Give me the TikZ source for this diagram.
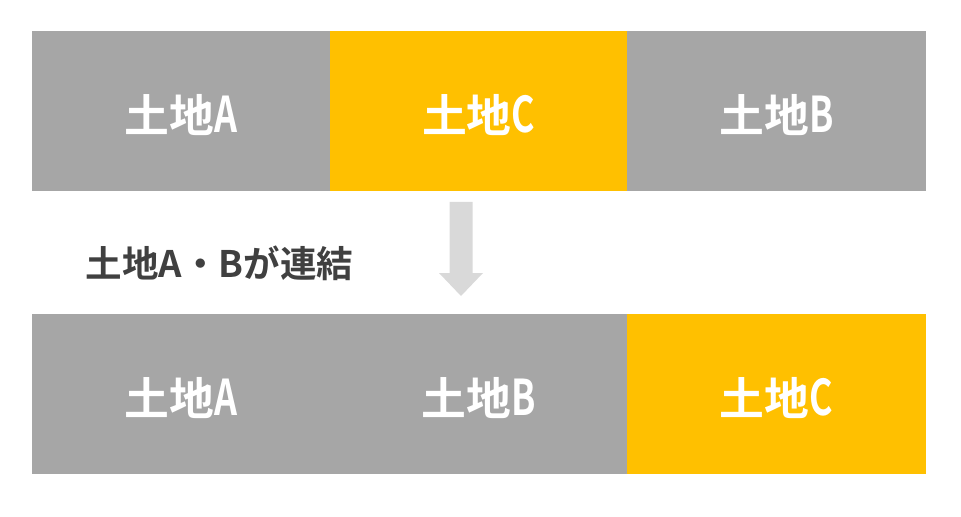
\documentclass[tikz,border=0pt]{standalone}
\usepackage{fontspec}
\newfontfamily\jpfont{Noto Sans CJK JP}[BoldFont={Noto Sans CJK JP Bold}]
\usetikzlibrary{positioning}

\definecolor{landgray}{HTML}{A6A6A6}
\definecolor{landgold}{HTML}{FFC000}
\definecolor{arrowgray}{HTML}{D9D9D9}
\definecolor{labelgray}{HTML}{404040}

% narrow latin letter in the box names
\newcommand{\plotname}[1]{土地\scalebox{0.8}[1.1]{#1}}

\tikzset{
  land/.style={fill=landgray, draw=landgray, line width=0.3pt, text=white, inner sep=0pt,
    outer sep=0pt, minimum width=298.33*0.02cm-0.3pt, minimum height=160*0.02cm-0.3pt,
    text height=0.86cm, text depth=0pt,
    font=\jpfont\bfseries\fontsize{25.5}{30}\selectfont},
  landC/.style={land, fill=landgold, draw=landgold}
}

\begin{document}
\begin{tikzpicture}[x=0.02cm, y=-0.02cm]
  \useasboundingbox (0,0) rectangle (961,517);
  % before
  \node (A1) [land, anchor=north west] at (32,31) {\plotname{A}};
  \node (C1) [landC, right=0pt of A1] {\plotname{C}};
  \node (B1) [land, right=0pt of C1] {\plotname{B}};
  % arrow
  \coordinate (tip) at (461,296);
  \fill[arrowgray] (449.5,202) -- (472.5,202) -- (472.5,273) -- (483,273) -- (tip)
    -- (439,273) -- (449.5,273) -- cycle;
  \node (joined) [text=labelgray, font=\jpfont\bfseries\fontsize{20.8}{24}\selectfont] at (219.5,263) {土地A・Bが連結};
  % after
  \node (A2) [land, anchor=north west] at (32,314) {\plotname{A}};
  \node (B2) [land, right=0pt of A2] {\plotname{B}};
  \node (C2) [landC, right=0pt of B2] {\plotname{C}};
\end{tikzpicture}
\end{document}
